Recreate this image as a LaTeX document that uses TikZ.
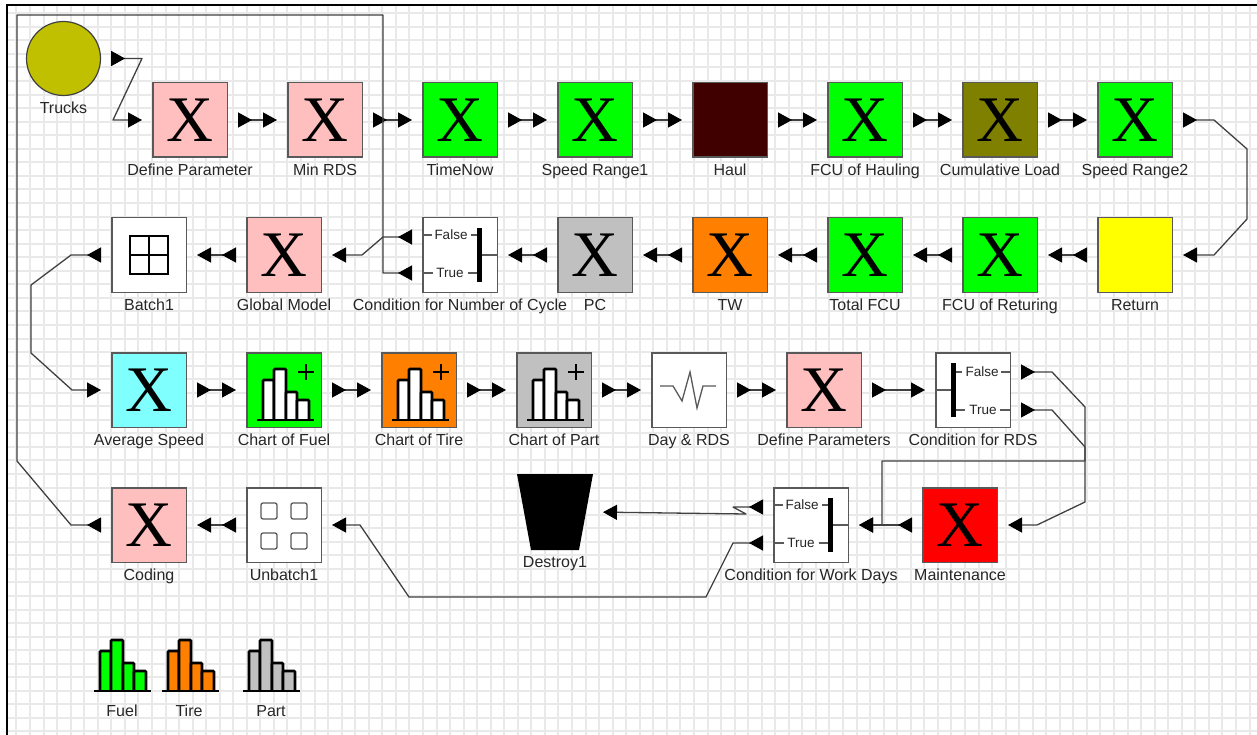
\documentclass[tikz,border=0pt]{standalone}
\usepackage{fontspec}
\setmainfont{Liberation Sans}
\newfontfamily\xfont{Liberation Serif}
\usetikzlibrary{arrows.meta}
\usetikzlibrary{positioning, calc}
\definecolor{pinkx}{HTML}{FFBFBF}
\definecolor{greenx}{HTML}{00FF00}
\definecolor{maroonx}{HTML}{400000}
\definecolor{olivex}{HTML}{808000}
\definecolor{cyanx}{HTML}{80FFFF}
\definecolor{orangex}{HTML}{FF8000}
\definecolor{grayx}{HTML}{C0C0C0}
\definecolor{truckx}{HTML}{C0C000}
\definecolor{yellowx}{HTML}{FFFF00}
\definecolor{redx}{HTML}{FF0000}
\definecolor{gridx}{HTML}{E9E9E9}
\tikzset{
  porto/.tip={Triangle[reversed,length=14pt,width=15pt,black]},
  porti/.tip={Triangle[length=14pt,width=15pt,black]},
  pics/histo/.style={code={
    \foreach \l/\r/\t in {-21/-10/-10,-10/2/-21,2/13/2,13/25/10}
      \draw[line width=2.6pt,fill=#1,rounded corners=1pt] (\l,30) -- (\l,\t) -- (\r,\t) -- (\r,30);
    \draw[line width=2.6pt] (-27,30) -- (30,30);
  }},
  pics/plusmark/.style={code={
    \draw[line width=1.1pt] (14,-18) -- (30,-18) (22,-26) -- (22,-10);
  }},
  pics/condgate/.style={code={
    \node[gatetext] (-f) at (-9,-20+#1) {False};
    \node[gatetext] (-t) at (-10,18+#1) {True};
    \coordinate (-pf) at (-38,-18);
    \coordinate (-pt) at (-38,18+#1);
    \fill[black] (17,-27) rectangle (22,27);
    \draw[gateline] (-38,-20+#1) -- (-28,-20+#1) (11,-20+#1) -- (17,-20+#1);
    \draw[gateline] (-38,18+#1) -- (-27,18+#1) (8,18+#1) -- (17,18+#1);
    \draw[gateline] (22,0) -- (38,0);
  }}
}
\begin{document}
\begin{tikzpicture}[x=1pt,y=-1pt,node distance=135pt,
  block/.style={rectangle,draw=black!65,line width=1.5pt,minimum size=74.5pt,inner sep=0pt,
    font=\xfont\fontsize{65pt}{65pt}\selectfont},
  every label/.style={font=\fontsize{16pt}{16pt}\selectfont,text=black!85,inner sep=0pt,
    text height=12pt,text depth=3.5pt},
  label distance=5pt,
  capt/.style={font=\fontsize{16pt}{16pt}\selectfont,text=black!85,inner sep=0pt},
  gatetext/.style={font=\fontsize{13.5pt}{13.5pt}\selectfont,text=black!85,inner sep=0pt},
  gateline/.style={draw=black!65,line width=1.3pt},
  iconline/.style={draw=black,line width=1.2pt},
  gridline/.style={draw=gridx,line width=2pt},
  link/.style={porto-porti,draw=black!75,line width=1.3pt,line join=round,
    shorten >=10pt,shorten <=10pt}]
  \useasboundingbox (0,0) rectangle (1257,735);
  \foreach \k [evaluate=\k as \gx using 16.45+13.55*\k] in {0,...,91}
    \draw[gridline] (\gx,6) -- (\gx,735);
  \foreach \k [evaluate=\k as \gy using 13.3+13.55*\k] in {0,...,53}
    \draw[gridline] (8,\gy) -- (1257,\gy);
  \draw[line width=2pt] (7,735) -- (7,5) -- (1257,5);

  \node[circle,draw=black!75,line width=1.2pt,fill=truckx,minimum size=74pt,inner sep=0pt,
    label=below:Trucks] (trucks) at (63.5,58.5) {};
  \node[block,fill=pinkx,label=below:Define Parameter] (defparam) at (190,120) {X};
  \node[block,fill=pinkx,label=below:Min RDS,right of=defparam] (minrds) {X};
  \node[block,fill=greenx,label=below:TimeNow,right of=minrds] (timenow) {X};
  \node[block,fill=greenx,label=below:Speed Range1,right of=timenow] (speed1) {X};
  \node[block,fill=maroonx,label=below:Haul,right of=speed1] (haul) {};
  \node[block,fill=greenx,label=below:FCU of Hauling,right of=haul] (fcuhaul) {X};
  \node[block,fill=olivex,label=below:Cumulative Load,right of=fcuhaul] (cumload) {X};
  \node[block,fill=greenx,label=below:Speed Range2,right of=cumload] (speed2) {X};

  \node[block,fill=yellowx,label=below:Return,below of=speed2] (return) {};
  \node[block,fill=greenx,label=below:FCU of Returing,left of=return] (fcuret) {X};
  \node[block,fill=greenx,label=below:Total FCU,left of=fcuret] (totalfcu) {X};
  \node[block,fill=orangex,label=below:TW,left of=totalfcu] (tw) {X};
  \node[block,fill=grayx,label=below:PC,left of=tw] (pc) {X};
  \node[block,fill=white,label=below:Condition for Number of Cycle,left of=pc] (cycle) {};
  \node[block,fill=pinkx,label=below:Global Model,left of=cycle,node distance=176pt] (global) {X};
  \node[block,fill=white,label=below:Batch1,left of=global] (batch) {};

  \node[block,fill=cyanx,label=below:Average Speed,below of=batch] (avgspeed) {X};
  \node[block,fill=greenx,label=below:Chart of Fuel,right of=avgspeed] (chartfuel) {};
  \node[block,fill=orangex,label=below:Chart of Tire,right of=chartfuel] (charttire) {};
  \node[block,fill=grayx,label=below:Chart of Part,right of=charttire] (chartpart) {};
  \node[block,fill=white,label=below:Day \& RDS,right of=chartpart] (dayrds) {};
  \node[block,fill=pinkx,label=below:Define Parameters,right of=dayrds] (defparams) {X};
  \node[block,fill=white,label=below:Condition for RDS,right of=defparams,node distance=149pt] (rds) {};

  \node[block,fill=pinkx,label=below:Coding,below of=avgspeed] (coding) {X};
  \node[block,fill=white,label=below:Unbatch1,right of=coding] (unbatch) {};
  \node[rectangle,minimum size=76pt,inner sep=0pt,outer sep=0pt,label=below:Destroy1] (destroy) at (555,512) {};
  \fill[black] (destroy.north west) -- (destroy.north east)
    -- ($(destroy.south east)+(-14,0)$) -- ($(destroy.south west)+(14,0)$) -- cycle;
  \node[block,fill=white,label=below:Condition for Work Days] (workdays) at (811,525) {};
  \node[block,fill=redx,label=below:Maintenance,right of=workdays,node distance=149pt] (maint) {X};

  \foreach \c in {chartfuel,charttire,chartpart} {
    \pic (\c-h) at (\c) {histo=white};
    \pic (\c-p) at (\c) {plusmark};
  }
  \pic (cyclegate) at (cycle) {condgate=0};
  \pic[xscale=-1] (rdsgate) at (rds) {condgate=2};
  \pic (workgate) at (workdays) {condgate=0};
  \draw[iconline,shift={(batch)}] (-19,-19) rectangle (19,19) (0,-19) -- (0,19) (-19,0) -- (19,0);
  \foreach \i/\j in {-23/-22,7/-22,-23/8,7/8}
    \draw[gateline,rounded corners=2pt,shift={(unbatch)}] (\i,\j) rectangle ++(16,16);
  \draw[gateline,shift={(dayrds)}] (-29,-4) -- (-16,-4) -- (-7,11) -- (1,-18) -- (8,18) -- (14,-4) -- (27,-4);

  \pic (legfuel) at (121,661) {histo=greenx};
  \pic (legtire) at (189,661) {histo=orangex};
  \pic (legpart) at (270,661) {histo=grayx};
  \node[capt] (fuel) at (122,711) {Fuel};
  \node[capt] (tire) at (189,711) {Tire};
  \node[capt] (part) at (271,711) {Part};

  \path[link]
    (defparam) edge (minrds)
    (minrds) edge (timenow)
    (timenow) edge (speed1)
    (speed1) edge (haul)
    (haul) edge (fcuhaul)
    (fcuhaul) edge (cumload)
    (cumload) edge (speed2)
    (return) edge (fcuret)
    (fcuret) edge (totalfcu)
    (totalfcu) edge (tw)
    (tw) edge (pc)
    (pc) edge (cycle)
    (global) edge (batch)
    (avgspeed) edge (chartfuel)
    (chartfuel) edge (charttire)
    (charttire) edge (chartpart)
    (chartpart) edge (dayrds)
    (dayrds) edge (defparams)
    (defparams) edge (rds)
    (unbatch) edge (coding)
    (maint) edge (workdays);
  \draw[link] (trucks.east) -- (142,58.5) -- (113,120) -- (defparam.west);
  \draw[link] (speed2.east) -- (1214,120) -- (1247,149) -- (1247,219) -- (1214,255) -- (return.east);
  \draw[link] (cyclegate-pf) -- (383,237) -- (362,255) -- (global.east);
  \draw[link,porto-porto] (cyclegate-pt) -- (383,273) -- (383,15) -- (17,15) -- (17,461) -- (71,525) -- (coding.west);
  \draw[link] (batch.west) -- (71,255) -- (31,285) -- (31,353) -- (72,390) -- (avgspeed.west);
  \draw[link] (rdsgate-pf) -- (1052,372) -- (1085,407) -- (1085,502) -- (1037,525) -- (maint.east);
  \draw[link] (rdsgate-pt) -- (1052,410) -- (1085,447) -- (1085,461) -- (882,461) -- (882,525) -- (workdays.east);
  \draw[link] (workgate-pf) -- (733,507) -- (746,514) -- (destroy.east);
  \draw[link] (workgate-pt) -- (733,543) -- (706,597) -- (409,597) -- (360,525) -- (unbatch.east);
\end{tikzpicture}
\end{document}
